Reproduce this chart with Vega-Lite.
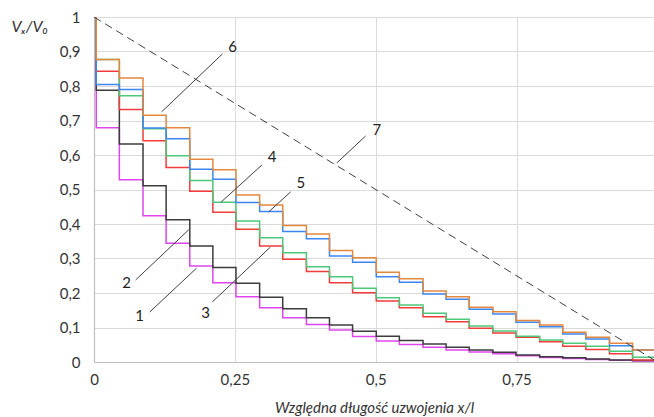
{
  "$schema": "https://vega.github.io/schema/vega-lite/v6.json",
  "width": 560,
  "height": 345,
  "autosize": "none",
  "padding": {"left": 94, "top": 17, "right": 0, "bottom": 55},
  "background": "white",
  "config": {
    "view": {"stroke": null},
    "font": "Lato",
    "axis": {
      "labelFont": "Lato", "labelFontSize": 15, "labelColor": "#333333", "labelOverlap": false,
      "titleFont": "Lato", "titleFontWeight": "normal", "titleFontStyle": "italic", "titleColor": "#333333",
      "gridColor": "#DADADA", "gridWidth": 1, "domainColor": "#BFBFBF", "domainWidth": 1.2, "ticks": false
    }
  },
  "datasets": {
    "curves": [
      {"x": 0, "c1": 1, "c2": 1, "c3": 1, "c4": 1, "c5": 1, "c6": 1},
      {"x": 0.004, "c1": 0.679, "c2": 0.788, "c3": 0.843, "c4": 0.877, "c5": 0.804, "c6": 0.877},
      {"x": 0.045, "c1": 0.528, "c2": 0.632, "c3": 0.732, "c4": 0.772, "c5": 0.790, "c6": 0.823},
      {"x": 0.087, "c1": 0.424, "c2": 0.511, "c3": 0.641, "c4": 0.676, "c5": 0.678, "c6": 0.715},
      {"x": 0.128, "c1": 0.344, "c2": 0.412, "c3": 0.564, "c4": 0.598, "c5": 0.647, "c6": 0.679},
      {"x": 0.170, "c1": 0.278, "c2": 0.336, "c3": 0.495, "c4": 0.526, "c5": 0.559, "c6": 0.588},
      {"x": 0.211, "c1": 0.230, "c2": 0.274, "c3": 0.434, "c4": 0.463, "c5": 0.530, "c6": 0.557},
      {"x": 0.252, "c1": 0.189, "c2": 0.228, "c3": 0.385, "c4": 0.409, "c5": 0.462, "c6": 0.484},
      {"x": 0.294, "c1": 0.157, "c2": 0.188, "c3": 0.336, "c4": 0.360, "c5": 0.436, "c6": 0.455},
      {"x": 0.335, "c1": 0.128, "c2": 0.154, "c3": 0.298, "c4": 0.317, "c5": 0.378, "c6": 0.396},
      {"x": 0.377, "c1": 0.109, "c2": 0.128, "c3": 0.262, "c4": 0.276, "c5": 0.357, "c6": 0.371},
      {"x": 0.418, "c1": 0.093, "c2": 0.107, "c3": 0.230, "c4": 0.247, "c5": 0.307, "c6": 0.323},
      {"x": 0.459, "c1": 0.074, "c2": 0.089, "c3": 0.201, "c4": 0.214, "c5": 0.289, "c6": 0.302},
      {"x": 0.501, "c1": 0.061, "c2": 0.075, "c3": 0.177, "c4": 0.186, "c5": 0.247, "c6": 0.260},
      {"x": 0.542, "c1": 0.051, "c2": 0.062, "c3": 0.157, "c4": 0.165, "c5": 0.231, "c6": 0.241},
      {"x": 0.584, "c1": 0.043, "c2": 0.052, "c3": 0.131, "c4": 0.141, "c5": 0.197, "c6": 0.206},
      {"x": 0.625, "c1": 0.035, "c2": 0.043, "c3": 0.117, "c4": 0.124, "c5": 0.182, "c6": 0.189},
      {"x": 0.666, "c1": 0.029, "c2": 0.035, "c3": 0.098, "c4": 0.104, "c5": 0.153, "c6": 0.159},
      {"x": 0.708, "c1": 0.024, "c2": 0.028, "c3": 0.084, "c4": 0.090, "c5": 0.139, "c6": 0.146},
      {"x": 0.749, "c1": 0.018, "c2": 0.020, "c3": 0.072, "c4": 0.075, "c5": 0.115, "c6": 0.120},
      {"x": 0.791, "c1": 0.013, "c2": 0.015, "c3": 0.059, "c4": 0.064, "c5": 0.102, "c6": 0.107},
      {"x": 0.832, "c1": 0.010, "c2": 0.012, "c3": 0.046, "c4": 0.054, "c5": 0.081, "c6": 0.086},
      {"x": 0.873, "c1": 0.007, "c2": 0.009, "c3": 0.036, "c4": 0.046, "c5": 0.067, "c6": 0.072},
      {"x": 0.915, "c1": 0.005, "c2": 0.006, "c3": 0.024, "c4": 0.031, "c5": 0.047, "c6": 0.054},
      {"x": 0.956, "c1": 0.003, "c2": 0.004, "c3": 0.006, "c4": 0.014, "c5": 0.035, "c6": 0.035},
      {"x": 1.0, "c1": 0.003, "c2": 0.004, "c3": 0.006, "c4": 0.014, "c5": 0.035, "c6": 0.035}
    ],
    "ideal": [
      {"x": 0, "y": 1},
      {"x": 1, "y": 0}
    ],
    "leaders": [
      {"label": "1", "x": 0.099, "y": 0.145, "x2": 0.182, "y2": 0.272, "tx": 0.081, "ty": 0.133},
      {"label": "2", "x": 0.074, "y": 0.238, "x2": 0.168, "y2": 0.383, "tx": 0.058, "ty": 0.229},
      {"label": "3", "x": 0.210, "y": 0.174, "x2": 0.313, "y2": 0.333, "tx": 0.198, "ty": 0.142},
      {"label": "4", "x": 0.298, "y": 0.571, "x2": 0.226, "y2": 0.464, "tx": 0.316, "ty": 0.594},
      {"label": "5", "x": 0.349, "y": 0.493, "x2": 0.310, "y2": 0.435, "tx": 0.367, "ty": 0.519},
      {"label": "6", "x": 0.228, "y": 0.893, "x2": 0.120, "y2": 0.725, "tx": 0.246, "ty": 0.913},
      {"label": "7", "x": 0.482, "y": 0.655, "x2": 0.431, "y2": 0.577, "tx": 0.502, "ty": 0.672}
    ]
  },
  "layer": [
    {
      "data": {"name": "curves"},
      "transform": [{"fold": ["c1", "c2", "c3", "c4", "c5", "c6"], "as": ["s", "y"]}],
      "mark": {"type": "line", "interpolate": "step-after", "strokeWidth": 1.5, "clip": true},
      "encoding": {
        "x": {
          "field": "x", "type": "quantitative",
          "scale": {"domain": [0, 0.994], "nice": false, "zero": false},
          "axis": {
            "values": [0, 0.25, 0.5, 0.75], "tickCount": 20, "format": ".2~f",
            "labelExpr": "replace(datum.label, '.', ',')",
            "labelPadding": 10, "labelFlush": false,
            "title": "Względna długość uzwojenia x/l", "titleFontSize": 15,
            "titleBaseline": "alphabetic", "titleY": 50
          }
        },
        "y": {
          "field": "y", "type": "quantitative",
          "scale": {"domain": [0, 1], "nice": false},
          "axis": {
            "values": [0, 0.1, 0.2, 0.3, 0.4, 0.5, 0.6, 0.7, 0.8, 0.9, 1], "tickCount": 20, "format": ".1~f",
            "labelExpr": "replace(datum.label, '.', ',')",
            "labelPadding": 14, "labelFlush": false,
            "title": "Vₓ/V₀", "titleFontSize": 16, "titleAngle": 0,
            "titleAlign": "left", "titleBaseline": "middle", "titleX": -83, "titleY": 9
          }
        },
        "color": {
          "field": "s", "type": "nominal", "legend": null,
          "scale": {
            "domain": ["c1", "c2", "c3", "c4", "c5", "c6"],
            "range": ["#DF45EE", "#3C3C3C", "#F23B3B", "#4DC77A", "#3D86F0", "#E4873F"]
          }
        },
        "order": {"field": "x", "type": "quantitative"}
      }
    },
    {
      "data": {"name": "ideal"},
      "mark": {"type": "line", "color": "#404040", "strokeWidth": 1, "strokeDash": [8, 5], "clip": true},
      "encoding": {
        "x": {"field": "x", "type": "quantitative"},
        "y": {"field": "y", "type": "quantitative"}
      }
    },
    {
      "data": {"name": "leaders"},
      "mark": {"type": "rule", "color": "#404040", "strokeWidth": 1},
      "encoding": {
        "x": {"field": "x", "type": "quantitative"},
        "y": {"field": "y", "type": "quantitative"},
        "x2": {"field": "x2"},
        "y2": {"field": "y2"}
      }
    },
    {
      "data": {"name": "leaders"},
      "mark": {"type": "text", "font": "Lato", "fontSize": 15, "color": "#222222", "align": "center", "baseline": "middle"},
      "encoding": {
        "x": {"field": "tx", "type": "quantitative"},
        "y": {"field": "ty", "type": "quantitative"},
        "text": {"field": "label"}
      }
    }
  ]
}
